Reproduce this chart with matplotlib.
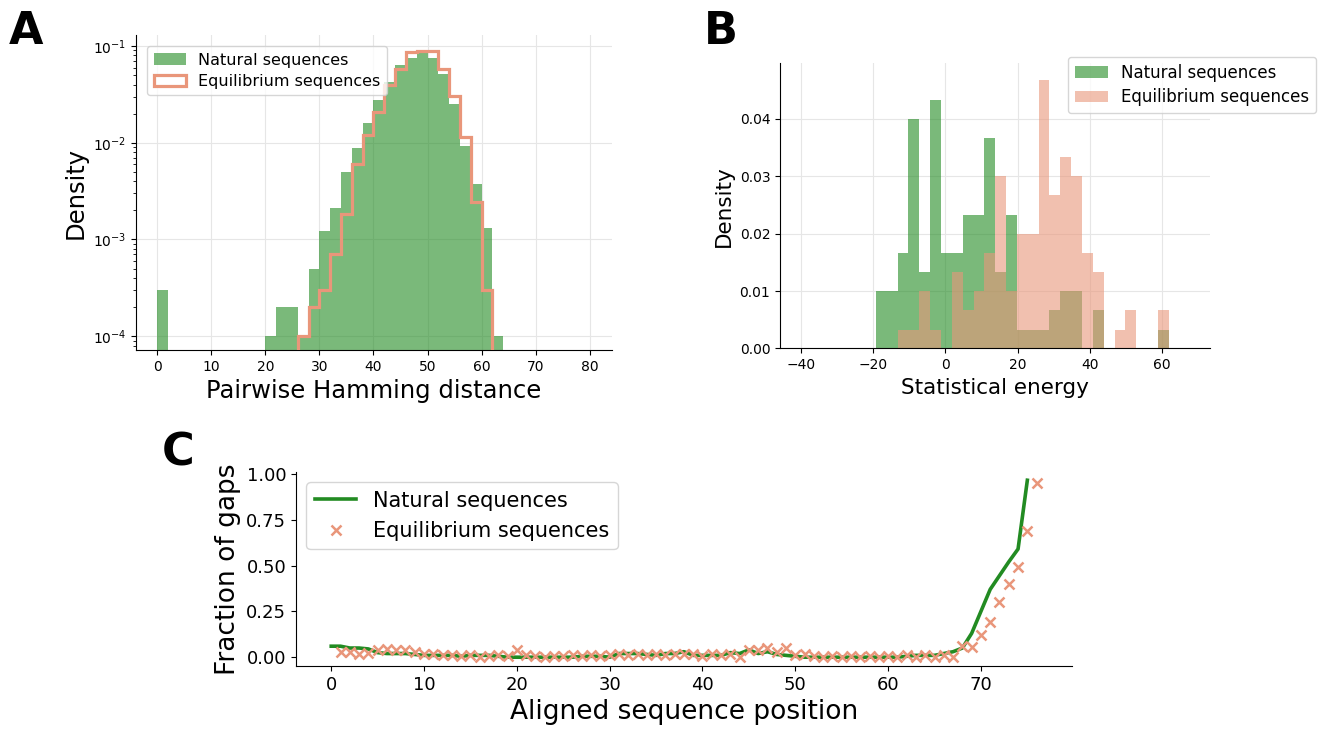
import numpy as np
import matplotlib
matplotlib.use("Agg")
import matplotlib.pyplot as plt
from matplotlib.patches import Patch

# ---- panel A: pairwise Hamming distance (density, log scale)
ham_edges = np.arange(0, 66, 2)
ham_natural = [3e-4, 0, 0, 0, 0, 0, 0, 0, 0, 0,
               1e-4, 2e-4, 2e-4, 1e-4, 5e-4, 1.22e-3, 2.1e-3, 5.0e-3, 8.8e-3, 1.62e-2,
               2.77e-2, 4.22e-2, 6.4e-2, 7.6e-2, 8.7e-2, 7.5e-2, 5.2e-2, 2.5e-2, 9.2e-3, 3.75e-3,
               1.3e-3, 1e-4]
ham_eq_edges = np.arange(26, 64, 2)
ham_equilibrium = [1e-4, 2e-4, 3e-4, 7.1e-4, 1.84e-3, 6.0e-3, 1.19e-2, 2.1e-2, 3.96e-2,
                   5.8e-2, 8.6e-2, 8.95e-2, 8.8e-2, 5.75e-2, 3.06e-2, 1.14e-2, 2.44e-3, 3e-4]

# ---- panel B: statistical energy (density)
energy_edges = np.linspace(-19.2, 61.8, 28)
energy_natural = [0.01, 0.01, 0.0167, 0.04, 0.0133, 0.0433, 0.0167, 0.0167, 0.0233, 0.0233,
                  0.0367, 0.0133, 0.0233, 0.0033, 0.0033, 0.0033, 0.0067, 0.01, 0.01, 0,
                  0.0067, 0, 0, 0, 0, 0, 0.0033]
energy_equilibrium = [0, 0, 0.0033, 0.0033, 0.01, 0.0033, 0, 0.0133, 0.0067, 0.01,
                      0.0167, 0.03, 0.01, 0.02, 0.02, 0.0467, 0.0267, 0.0333, 0.03, 0.0167,
                      0.0133, 0, 0.0033, 0.0067, 0, 0, 0.0067]

# ---- panel C: fraction of gaps per aligned position
gaps_natural = [0.06, 0.06, 0.05, 0.05, 0.045, 0.025, 0.02, 0.02, 0.02, 0.015,
                0.01, 0.01, 0.01, 0.01, 0.005, 0.01, 0.01, 0.01, 0.005, 0.0,
                0.0, 0.0, 0.0, 0.0, 0.0, 0.0, 0.0, 0.005, 0.005, 0.005,
                0.0, 0.02, 0.02, 0.02, 0.015, 0.01, 0.02, 0.02, 0.03, 0.01,
                0.01, 0.01, 0.01, 0.025, 0.02, 0.04, 0.02, 0.03, 0.015, 0.01,
                0.005, 0.0, 0.0, 0.0, 0.0, 0.0, 0.0, 0.0, 0.0, 0.0,
                0.0, 0.0, 0.005, 0.01, 0.01, 0.01, 0.02, 0.03, 0.05, 0.13,
                0.25, 0.37, 0.445, 0.52, 0.59, 0.965]
gaps_equilibrium = [0.03, 0.03, 0.02, 0.025, 0.04, 0.045, 0.04, 0.04, 0.03, 0.02,
                    0.015, 0.01, 0.01, 0.005, 0.01, 0.0, 0.005, 0.01, 0.005, 0.04,
                    0.01, 0.005, 0.0, 0.005, 0.005, 0.01, 0.005, 0.01, 0.005, 0.01,
                    0.02, 0.01, 0.02, 0.01, 0.02, 0.01, 0.02, 0.015, 0.02, 0.005,
                    0.02, 0.01, 0.02, 0.0, 0.04, 0.04, 0.05, 0.03, 0.05, 0.01,
                    0.02, 0.005, 0.0, 0.005, 0.0, 0.005, 0.0, 0.005, 0.0, 0.005,
                    0.0, 0.01, 0.0, 0.01, 0.0, 0.01, 0.0, 0.06, 0.055, 0.12,
                    0.19, 0.30, 0.40, 0.49, 0.69, 0.95]
pos_natural = np.arange(len(gaps_natural))
pos_equilibrium = np.arange(1, len(gaps_equilibrium) + 1)

green = "forestgreen"
salmon = "darksalmon"
gridcol = "#e6e6e6"

fig = plt.figure(figsize=(13.23, 7.33), dpi=100)

# Panel A
axA = fig.add_axes([0.1028, 0.5225, 0.3598, 0.4297])
bars = axA.bar(ham_edges[:-1], ham_natural, width=2, align="edge", color=green, alpha=0.6,
               zorder=2)
axA.stairs(ham_equilibrium, ham_eq_edges, baseline=1e-6, color=salmon, lw=2.3, zorder=3)
axA.set_yscale("log")
axA.set_ylim(7.2e-5, 0.13)
axA.set_xlim(-3.9, 84.1)
axA.set_xticks(range(0, 90, 10))
axA.grid(True, color=gridcol, lw=0.8, zorder=0)
axA.set_axisbelow(True)
axA.set_xlabel("Pairwise Hamming distance", fontsize=17.5)
axA.set_ylabel("Density", fontsize=17.5)
axA.tick_params(labelsize=10)
axA.legend([bars, Patch(facecolor="white", edgecolor=salmon, lw=2.3)],
           ["Natural sequences", "Equilibrium sequences"], loc="upper left",
           fontsize=11.5, labelspacing=0.4, borderaxespad=0.7)

# Panel B
axB = fig.add_axes([0.5896, 0.5246, 0.325, 0.3895])
axB.bar(energy_edges[:-1], energy_natural, width=np.diff(energy_edges), align="edge",
        color=green, alpha=0.6, label="Natural sequences", zorder=2)
axB.bar(energy_edges[:-1], energy_equilibrium, width=np.diff(energy_edges), align="edge",
        color=salmon, alpha=0.6, label="Equilibrium sequences", zorder=2)
axB.set_xlim(-45.7, 73.2)
axB.set_ylim(0, 0.0497)
axB.set_xticks([-40, -20, 0, 20, 40, 60])
axB.set_yticks([0, 0.01, 0.02, 0.03, 0.04])
axB.grid(True, color=gridcol, lw=0.8, zorder=0)
axB.set_axisbelow(True)
axB.set_xlabel("Statistical energy", fontsize=15.5)
axB.set_ylabel("Density", fontsize=15.5)
axB.tick_params(labelsize=10)
axB.legend(loc="upper right", fontsize=12, bbox_to_anchor=(0.9947, 0.9222),
           bbox_transform=fig.transFigure, borderaxespad=0, labelspacing=0.4)

# Panel C
axC = fig.add_axes([0.2237, 0.0914, 0.5865, 0.2647])
axC.plot(pos_natural, gaps_natural, color=green, lw=2.6, label="Natural sequences")
axC.plot(pos_equilibrium, gaps_equilibrium, ls="none", marker="x", ms=7, mew=1.8,
         color=salmon, label="Equilibrium sequences")
axC.set_xlim(-3.8, 79.8)
axC.set_ylim(-0.048, 1.01)
axC.set_xticks(range(0, 80, 10))
axC.set_yticks([0, 0.25, 0.5, 0.75, 1.0])
axC.set_xlabel("Aligned sequence position", fontsize=19)
axC.set_ylabel("Fraction of gaps", fontsize=19)
axC.tick_params(labelsize=13)
axC.legend(loc="upper left", fontsize=15)

for ax in (axA, axB, axC):
    ax.spines["top"].set_visible(False)
    ax.spines["right"].set_visible(False)

fig.text(0.007, 0.94, "A", fontsize=32, fontweight="bold")
fig.text(0.532, 0.94, "B", fontsize=32, fontweight="bold")
fig.text(0.122, 0.365, "C", fontsize=32, fontweight="bold")

fig.savefig("out.png", dpi=100)
